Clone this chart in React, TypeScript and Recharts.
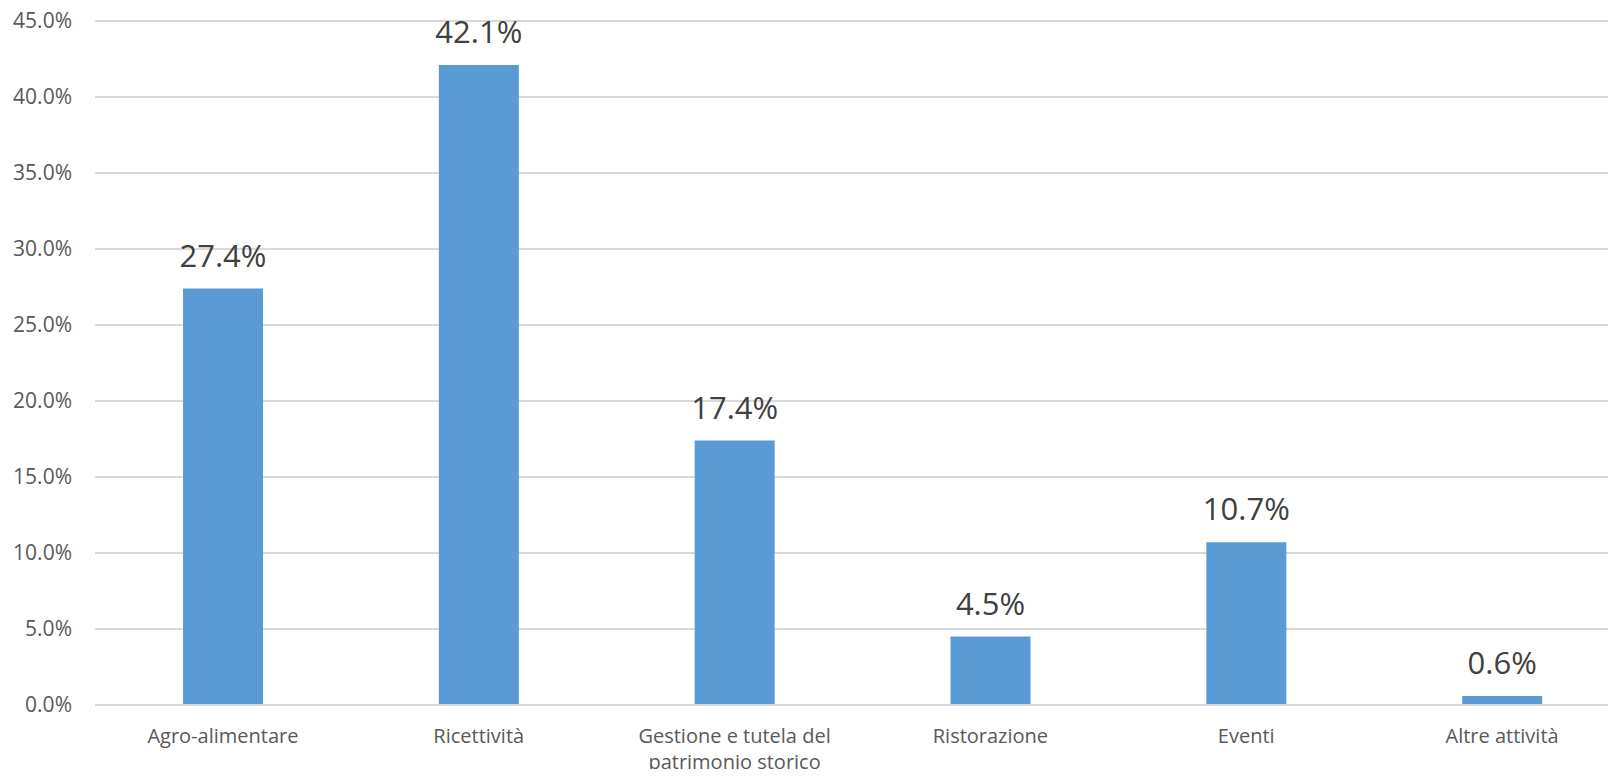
import { Bar, BarChart, CartesianGrid, LabelList, Text, XAxis, YAxis } from 'recharts'

const categories = [
  'Agro-alimentare',
  'Ricettività',
  'Gestione e tutela del patrimonio storico',
  'Ristorazione',
  'Eventi',
  'Altre attività',
]
const shares = [27.4, 42.1, 17.4, 4.5, 10.7, 0.6]
const yTicks = [0, 5, 10, 15, 20, 25, 30, 35, 40, 45]

const rows = categories.map((name, i) => ({ name, value: shares[i] }))

const FONT = '"Open Sans", sans-serif'

function CategoryTick({ x, y, payload }: any) {
  return (
    <Text
      x={x}
      y={y + 22}
      width={215}
      textAnchor="middle"
      verticalAnchor="start"
      lineHeight={26}
      fontSize={20}
      fontFamily={FONT}
      style={{ fontFamily: FONT, fontSize: 20 }}
      fill="#595959"
    >
      {payload.value}
    </Text>
  )
}

export default function App() {
  return (
    <div style={{ margin: -8, width: 1616, height: 777, overflow: 'hidden', background: '#fff' }}>
      <BarChart
        width={1640}
        height={777}
        data={rows}
        margin={{ top: 21, right: 10, bottom: 30, left: 0 }}
      >
        <CartesianGrid vertical={false} stroke="#D9D9D9" strokeWidth={2} />
        <XAxis
          dataKey="name"
          height={42}
          axisLine={{ stroke: '#D9D9D9', strokeWidth: 2 }}
          tickLine={false}
          tickSize={0}
          interval={0}
          tick={<CategoryTick />}
        />
        <YAxis
          width={95}
          domain={[0, 45]}
          ticks={yTicks}
          axisLine={false}
          tickLine={false}
          tickSize={0}
          tickMargin={23}
          tick={{ fontSize: 21, fill: '#595959', fontFamily: FONT }}
          tickFormatter={(v: number) => `${v.toFixed(1)}%`}
        />
        <Bar dataKey="value" fill="#5B9BD5" barSize={80} isAnimationActive={false}>
          <LabelList
            dataKey="value"
            position="top"
            offset={22}
            fill="#404040"
            fontSize={31}
            fontFamily={FONT}
            formatter={(v: number) => `${v.toFixed(1)}%`}
          />
        </Bar>
      </BarChart>
    </div>
  )
}
